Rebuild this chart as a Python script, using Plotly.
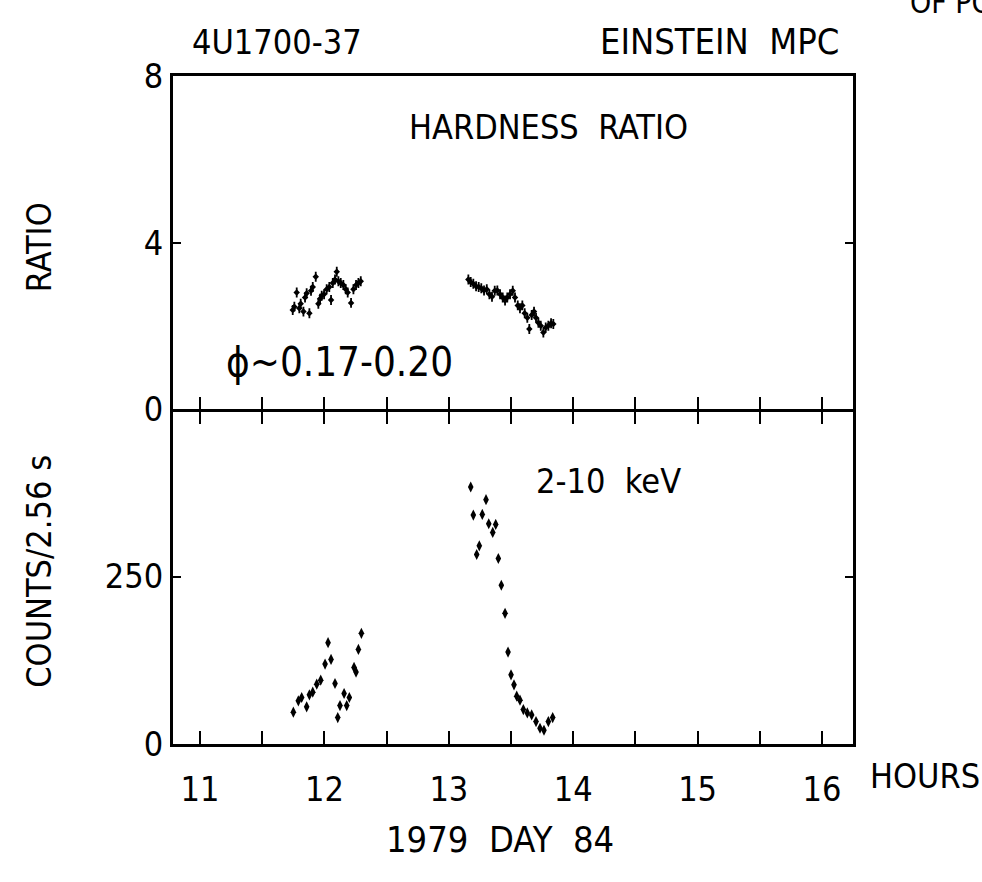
import plotly.graph_objects as go

# ---------------- data ----------------
# Hardness ratio, 1979 day 84 (hours UT)
hr_hours = [11.745, 11.758, 11.777, 11.798, 11.809, 11.831, 11.844, 11.857, 11.879, 11.892,
            11.906, 11.930, 11.951, 11.965, 11.978, 11.997, 12.018, 12.039, 12.053, 12.067,
            12.085, 12.099, 12.112, 12.131, 12.152, 12.171, 12.187, 12.214, 12.233, 12.254,
            12.273, 12.292,
            13.157, 13.176, 13.197, 13.219, 13.240, 13.261, 13.283, 13.305, 13.326, 13.347,
            13.369, 13.390, 13.412, 13.433, 13.452, 13.470, 13.492, 13.514, 13.532, 13.554,
            13.572, 13.591, 13.610, 13.631, 13.647, 13.666, 13.685, 13.701, 13.720, 13.739,
            13.760, 13.779, 13.800, 13.822, 13.840]
hr_ratio = [2.39, 2.47, 2.81, 2.43, 2.54, 2.35, 2.69, 2.79, 2.31, 2.85,
            2.94, 3.19, 2.54, 2.66, 2.73, 2.77, 2.89, 2.94, 2.63, 3.04,
            3.12, 3.31, 3.08, 3.04, 2.99, 2.89, 2.81, 2.56, 2.89, 2.99,
            3.04, 3.08,
            3.12, 3.06, 3.02, 2.96, 2.94, 2.91, 2.86, 2.89, 2.77, 2.71,
            2.85, 2.86, 2.77, 2.69, 2.62, 2.69, 2.77, 2.85, 2.69, 2.50,
            2.43, 2.50, 2.31, 2.20, 1.93, 2.27, 2.35, 2.20, 2.08, 2.01,
            1.85, 1.97, 2.01, 2.07, 2.05]
hr_err = 0.12

# 2-10 keV counts per 2.56 s
ct_hours = [11.750, 11.790, 11.817, 11.857, 11.879, 11.906, 11.938, 11.970, 12.005, 12.029,
            12.053, 12.085, 12.107, 12.125, 12.158, 12.179, 12.200, 12.238, 12.254, 12.273,
            12.297,
            13.176, 13.197, 13.224, 13.245, 13.269, 13.299, 13.321, 13.353, 13.377, 13.398,
            13.422, 13.452, 13.476, 13.500, 13.524, 13.546, 13.572, 13.599, 13.631, 13.666,
            13.701, 13.733, 13.765, 13.800, 13.835]
ct_counts = [47, 64, 69, 55, 73, 77, 89, 95, 119, 151,
             126, 90, 39, 57, 75, 57, 69, 114, 107, 141,
             165,
             384, 342, 283, 296, 343, 365, 329, 316, 328, 277,
             237, 195, 137, 103, 88, 71, 65, 51, 46, 43,
             33, 23, 20, 33, 39]

x_ticks = [11, 11.5, 12, 12.5, 13, 13.5, 14, 14.5, 15, 15.5, 16]
x_ticktext = ["11", "", "12", "", "13", "", "14", "", "15", "", "16"]
ratio_ticks = [0, 4, 8]
count_ticks = [0, 250]

# ---------------- layout helpers ----------------
W, H = 982, 882
FONT = "Liberation Sans Narrow, DejaVu Sans Condensed, Liberation Sans, sans-serif"


def px(x):
    return x / W


def py(y):
    return 1 - y / H


X_DOM = [px(172.7), px(852.7)]
TOP_DOM = [py(408), py(59)]
BOT_DOM = [py(758), py(408)]
XRANGE = [10.78, 16.247]

fig = go.Figure()

fig.add_trace(go.Scatter(
    x=hr_hours, y=hr_ratio, mode="markers", xaxis="x", yaxis="y",
    marker=dict(symbol="diamond", size=5, color="black"),
    error_y=dict(type="constant", value=hr_err, thickness=1.8, width=0, color="black"),
    showlegend=False, hoverinfo="skip"))

fig.add_trace(go.Scatter(
    x=ct_hours, y=ct_counts, mode="markers", xaxis="x2", yaxis="y2",
    marker=dict(symbol="diamond-tall", size=8, color="black"),
    showlegend=False, hoverinfo="skip"))

# empty trace so the overlay axis (upward half of the crossing ticks) is drawn
fig.add_trace(go.Scatter(x=[], y=[], xaxis="x3", yaxis="y", showlegend=False,
                         hoverinfo="skip"))

tickfont = dict(family=FONT, size=34, color="black")
base = dict(showgrid=False, zeroline=False, tickcolor="black", tickwidth=2,
            linecolor="black", linewidth=2.6, tickfont=tickfont)

fig.update_layout(
    width=W, height=H, margin=dict(l=0, r=0, t=0, b=0),
    paper_bgcolor="white", plot_bgcolor="white",
    font=dict(family=FONT, color="black"),
    # top panel: frame line + downward half of the crossing ticks
    xaxis=dict(domain=X_DOM, range=XRANGE, anchor="y", tickmode="array",
               tickvals=x_ticks, ticktext=x_ticktext, showticklabels=False,
               showline=True, mirror=True, ticks="outside", ticklen=12, **base),
    # upward half of the crossing ticks
    xaxis3=dict(domain=X_DOM, range=XRANGE, anchor="y", overlaying="x", side="bottom",
                tickmode="array", tickvals=x_ticks, ticktext=x_ticktext,
                showticklabels=False, showline=False, ticks="inside", ticklen=12, **base),
    yaxis=dict(domain=TOP_DOM, range=[0, 8], anchor="x", tickmode="array",
               tickvals=ratio_ticks, ticktext=[str(v) for v in ratio_ticks],
               showline=True, mirror="ticks", ticks="inside", ticklen=8, **base),
    xaxis2=dict(domain=X_DOM, range=XRANGE, anchor="y2", tickmode="array",
                tickvals=x_ticks, ticktext=x_ticktext, showline=True, mirror=False,
                ticks="inside", ticklen=13, ticklabelstandoff=14, **base),
    yaxis2=dict(domain=BOT_DOM, range=[0, 500], anchor="x2", tickmode="array",
                tickvals=count_ticks, ticktext=[str(v) for v in count_ticks],
                showline=True, mirror="ticks", ticks="inside", ticklen=8, **base),
)

big = dict(family=FONT, size=34, color="black")
ann = [
    dict(text="4U1700-37", x=px(277), y=py(23)),
    dict(text="EINSTEIN  MPC", x=px(719), y=py(23), font=dict(family=FONT, size=36, color="black")),
    dict(text="HARDNESS  RATIO", x=px(548), y=py(112)),
    dict(text="\u03d5~0.17-0.20", x=px(339), y=py(358), font=dict(family=FONT, size=40, color="black")),
    dict(text="2-10  keV", x=px(608), y=py(483)),
    dict(text="HOURS", x=px(925), y=py(792)),
    dict(text="1979  DAY  84", x=px(500), y=py(858), font=dict(family=FONT, size=36, color="black")),
    dict(text="RATIO", x=px(39), y=py(238), textangle=-90),
    dict(text="COUNTS/2.56 s", x=px(39), y=py(578), textangle=-90),
]
for a in ann:
    a.setdefault("font", big)
    fig.add_annotation(xref="paper", yref="paper", showarrow=False,
                       xanchor="center", yanchor="middle", **a)

# text cut off at the edge of the scanned page
fig.add_annotation(xref="paper", yref="paper", showarrow=False, text="OF POOR QUALITY",
                   x=px(908), y=py(2), xanchor="left", yanchor="bottom",
                   font=dict(family=FONT, size=30, color="black"))

fig.write_html("out.html")
